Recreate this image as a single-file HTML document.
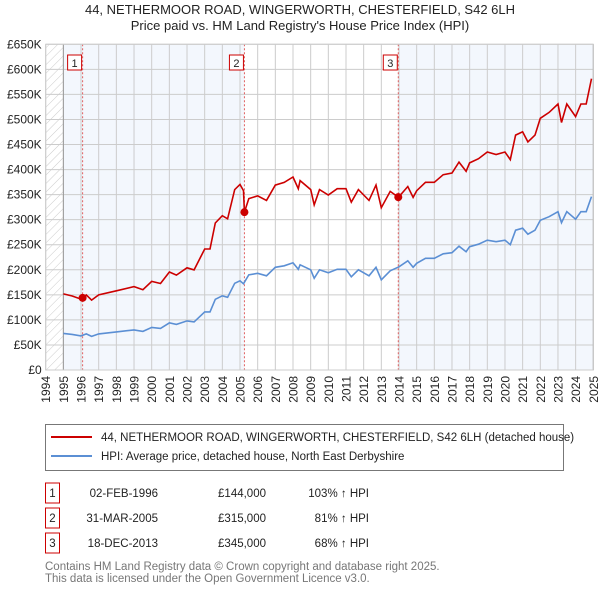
<!DOCTYPE html>
<html><head><meta charset="utf-8"><style>
body{margin:0;background:#fff;font-family:"Liberation Sans","DejaVu Sans",sans-serif;}
svg{display:block}
</style></head><body>
<svg width="600" height="590" viewBox="0 0 600 590" xmlns="http://www.w3.org/2000/svg" font-family="Liberation Sans, DejaVu Sans, sans-serif">
<defs><pattern id="hatch" width="6" height="6" patternUnits="userSpaceOnUse" patternTransform="rotate(45)"><line x1="0" y1="0" x2="0" y2="6" stroke="#ccc" stroke-width="1"/></pattern></defs>
<text x="300" y="14" text-anchor="middle" font-size="13" fill="#222">44, NETHERMOOR ROAD, WINGERWORTH, CHESTERFIELD, S42 6LH</text>
<text x="300" y="30" text-anchor="middle" font-size="13" fill="#222">Price paid vs. HM Land Registry's House Price Index (HPI)</text>
<g id="plot"></g>
<g>
<rect x="45.5" y="424.5" width="518" height="46" fill="#fff" stroke="#777"/>
<line x1="51" y1="437" x2="92" y2="437" stroke="#cc0000" stroke-width="2"/>
<text x="101" y="441" font-size="11.5" fill="#222">44, NETHERMOOR ROAD, WINGERWORTH, CHESTERFIELD, S42 6LH (detached house)</text>
<line x1="51" y1="456" x2="92" y2="456" stroke="#5b8fd4" stroke-width="2"/>
<text x="101" y="460" font-size="11.5" fill="#222">HPI: Average price, detached house, North East Derbyshire</text>
</g>
<g id="table" font-size="11.5" fill="#222"></g>
<text x="45" y="570" font-size="11.5" fill="#777">Contains HM Land Registry data © Crown copyright and database right 2025.</text>
<text x="45" y="582" font-size="11.5" fill="#777">This data is licensed under the Open Government Licence v3.0.</text>
</svg>
<script>
const hpiYears=[1995,1995.5,1996,1996.3,1996.6,1997,1998,1999,1999.5,2000,2000.5,2001,2001.4,2002,2002.4,2003,2003.3,2003.6,2004,2004.3,2004.7,2005,2005.2,2005.5,2006,2006.5,2007,2007.5,2008,2008.3,2008.4,2009,2009.2,2009.5,2010,2010.5,2011,2011.3,2011.7,2012,2012.3,2012.7,2013,2013.5,2014,2014.5,2014.8,2015,2015.5,2016,2016.5,2017,2017.4,2017.8,2018,2018.5,2019,2019.5,2020,2020.3,2020.6,2021,2021.3,2021.7,2022,2022.5,2023,2023.2,2023.5,2024,2024.3,2024.6,2024.9];
const hpiValues=[73,71,68,72,67,72,76,80,77,85,83,94,91,98,96,116,116,141,148,145,173,178,172,190,193,188,205,208,214,201,210,200,183,200,194,201,201,186,200,194,188,205,180,198,206,218,205,213,223,223,232,234,247,236,246,251,259,256,259,250,279,283,271,279,299,306,316,294,316,301,316,316,346];
const saleLabels=["1","2","3"];
const saleYears=[1996.09,2005.25,2013.96];
const salePrices=[144,315,345];
const saleDates=["02-FEB-1996","31-MAR-2005","18-DEC-2013"];
const salePriceText=["£144,000","£315,000","£345,000"];
const saleHpiText=["103% ↑ HPI","81% ↑ HPI","68% ↑ HPI"];
const yTicks=[0,50,100,150,200,250,300,350,400,450,500,550,600,650];
const yTickLabels=["£0","£50K","£100K","£150K","£200K","£250K","£300K","£350K","£400K","£450K","£500K","£550K","£600K","£650K"];
const xStart=1994,xEnd=2025;

const NS="http://www.w3.org/2000/svg";
const L=45.7,R=593.3,T=44.3,B=370;
const X=y=>L+(y-xStart)/(xEnd-xStart)*(R-L);
const Y=v=>B-v/650*(B-T);
const plot=document.getElementById('plot');
function mk(tag,attrs,parent){const e=document.createElementNS(NS,tag);for(const k in attrs)e.setAttribute(k,attrs[k]);(parent||plot).appendChild(e);return e;}
function hpiAt(t){if(t<=hpiYears[0])return hpiValues[0];for(let i=1;i<hpiYears.length;i++){if(t<=hpiYears[i]){const f=(t-hpiYears[i-1])/(hpiYears[i]-hpiYears[i-1]);return hpiValues[i-1]+f*(hpiValues[i]-hpiValues[i-1]);}}return hpiValues[hpiValues.length-1];}

let e;
e=mk('rect',{x:L,y:T,width:R-L,height:B-T,fill:'#fff'});

e=mk('rect',{x:L,y:T,width:X(1995)-L,height:B-T,fill:'url(#hatch)'});

e=mk('rect',{x:X(1995),y:T,width:X(saleYears[1])-X(1995),height:B-T,fill:'#eef3fc',opacity:0.7});

e=mk('rect',{x:X(saleYears[2]),y:T,width:R-X(saleYears[2]),height:B-T,fill:'#eef3fc',opacity:0.7});

for(let yr=xStart;yr<=xEnd;yr++){
 e=mk('line',{x1:X(yr),x2:X(yr),y1:T,y2:B,stroke:'#ccc','stroke-width':1});
 
 e=mk('text',{x:0,y:0,transform:`translate(${X(yr)+4.5},${B+6}) rotate(-90)`,'text-anchor':'end','font-size':12,fill:'#222'});
 e.textContent=yr;
 
}
yTicks.forEach((v,i)=>{
 e=mk('line',{x1:L,x2:R,y1:Y(v),y2:Y(v),stroke:'#ccc','stroke-width':1});
 
 e=mk('text',{x:L-4,y:Y(v)+4,'text-anchor':'end','font-size':12,fill:'#222'});
 e.textContent=yTickLabels[i];
 
});
e=mk('line',{x1:X(1995),x2:X(1995),y1:T,y2:B,stroke:'#999'});

e=mk('line',{x1:R,x2:R,y1:T,y2:B,stroke:'#999'});

saleYears.forEach((sy,i)=>{
 e=mk('line',{x1:X(sy),x2:X(sy),y1:T,y2:B,stroke:'#e06060','stroke-dasharray':'2,2','stroke-width':1});
 
});
let d='';hpiYears.forEach((yy,i)=>{d+=(i?'L':'M')+X(yy).toFixed(1)+','+Y(hpiValues[i]).toFixed(1);});
e=mk('path',{d:d,fill:'none',stroke:'#5b8fd4','stroke-width':1.6});

function ratioAt(t){let k=0;for(let i=0;i<saleYears.length;i++)if(t>=saleYears[i])k=i;return salePrices[k]/hpiAt(saleYears[k]);}
const pts=[...hpiYears,...saleYears].sort((a,b)=>a-b);
d='';pts.forEach((t,i)=>{d+=(i?'L':'M')+X(t).toFixed(1)+','+Y(hpiAt(t)*ratioAt(t)).toFixed(1);});
e=mk('path',{d:d,fill:'none',stroke:'#cc0000','stroke-width':1.6});

saleYears.forEach((sy,i)=>{
 e=mk('circle',{cx:X(sy),cy:Y(salePrices[i]),r:4,fill:'#cc0000'});
 
 e=mk('rect',{x:X(sy)-15,y:55,width:14,height:15,fill:'#fff',stroke:'#cc0000'});
 
 e=mk('text',{x:X(sy)-8,y:67,'text-anchor':'middle','font-size':11,fill:'#222'});
 e.textContent=saleLabels[i];
 
});
e=mk('rect',{x:L,y:T,width:R-L,height:B-T,fill:'none',stroke:'#ccc'});

const tb=document.getElementById('table');
saleLabels.forEach((s,i)=>{
 const y=493+i*25;
 e=mk('rect',{x:45.5,y:y-10,width:14,height:20,fill:'#fff',stroke:'#cc0000'},tb);
 
 e=mk('text',{x:52.5,y:y+4,'text-anchor':'middle'},tb);e.textContent=s;
 
 e=mk('text',{x:158,y:y+4,'text-anchor':'end'},tb);e.textContent=saleDates[i];
 
 e=mk('text',{x:266,y:y+4,'text-anchor':'end'},tb);e.textContent=salePriceText[i];
 
 e=mk('text',{x:369,y:y+4,'text-anchor':'end'},tb);e.textContent=saleHpiText[i];
 
});
</script>
</body></html>
